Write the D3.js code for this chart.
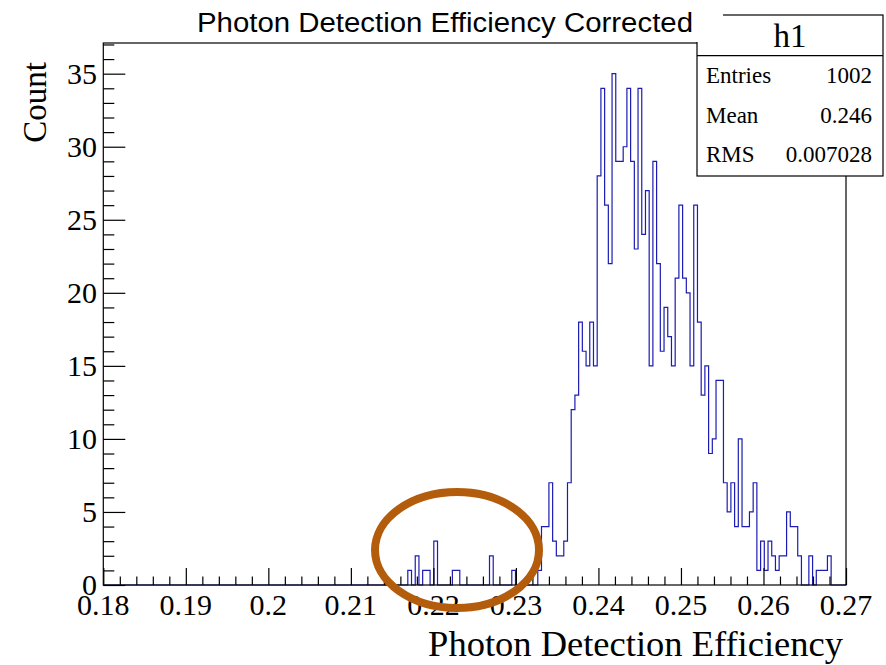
<!DOCTYPE html>
<html>
<head>
<meta charset="utf-8">
<script src="https://cdn.jsdelivr.net/npm/d3@7"></script>
<style>
  body { margin: 0; background: #fff; }
  text { fill: #000; }
</style>
</head>
<body>
<svg width="886" height="665"></svg>
<script>
// histogram h1 : 200 bins between 0.18 and 0.27
var xMin = 0.18, xMax = 0.27, nBins = 200;
var firstBin = 80;   // bins below this one are empty
// bin contents from bin 80 to bin 199
var counts = [
  0, 0, 1, 0, 2, 0, 1, 1, 0, 3,
  0, 0, 0, 0, 1, 1, 0, 0, 0, 0,
  0, 0, 0, 0, 2, 0, 0, 0, 0, 0,
  1, 0, 0, 0, 0, 0, 0, 1, 4, 4,
  7, 3, 2, 2, 3, 7, 12, 13, 18, 16,
  15, 18, 15, 28, 34, 26, 22, 35, 29, 29,
  30, 34, 29, 23, 34, 24, 27, 15, 29, 22,
  16, 19, 17, 15, 21, 26, 21, 20, 15, 26,
  18, 13, 15, 9, 10, 14, 14, 7, 5, 7,
  4, 10, 4, 4, 5, 7, 1, 3, 1, 3,
  2, 1, 2, 2, 5, 4, 4, 2, 0, 0,
  2, 0, 1, 1, 1, 2, 0, 0, 0, 0
];
var xTicks = [0.18, 0.19, 0.2, 0.21, 0.22, 0.23, 0.24, 0.25, 0.26, 0.27];
var yTicks = [0, 5, 10, 15, 20, 25, 30, 35];
var statNames = ["Entries", "Mean", "RMS"];
var statValues = ["1002", "0.246", "0.007028"];

var svg = d3.select("svg");
var frame = { left: 103.3, right: 846, top: 43, bottom: 585 };
var yTop = 37.1;

var x = d3.scaleLinear().domain([xMin, xMax]).range([frame.left, frame.right]);
var y = d3.scaleLinear().domain([0, yTop]).range([frame.bottom, frame.top]);
var binW = (xMax - xMin) / nBins;

// step outline like ROOT's HIST option
var pts = [[xMin, 0]];
for (var i = 0; i < nBins; i++) {
  var c = i < firstBin ? 0 : counts[i - firstBin];
  pts.push([xMin + i * binW, c]);
  pts.push([xMin + (i + 1) * binW, c]);
}
pts.push([xMax, 0]);

var line = d3.line()
    .x(function(d) { return x(d[0]); })
    .y(function(d) { return y(d[1]); });

svg.append("path")
    .attr("d", line(pts))
    .attr("fill", "none")
    .attr("stroke", "#1c1cb4")
    .attr("stroke-width", 1.2);

// frame box
svg.append("rect")
    .attr("x", frame.left).attr("y", frame.top)
    .attr("width", frame.right - frame.left)
    .attr("height", frame.bottom - frame.top)
    .attr("fill", "none").attr("stroke", "#000").attr("stroke-width", 1.2);

// x axis ticks, inside the frame
var xAxis = d3.axisTop(x)
    .tickValues(d3.range(0, 46).map(function(k) { return xMin + k * 0.002; }))
    .tickSize(0).tickFormat("");
var gx = svg.append("g").attr("transform", "translate(0," + frame.bottom + ")").call(xAxis);
gx.select(".domain").remove();
gx.selectAll(".tick line")
    .attr("stroke", "#000")
    .attr("stroke-width", 1.2)
    .attr("y2", function(d, k) { return k % 5 === 0 ? -17 : -8.5; });

svg.selectAll(".xlab")
    .data(xTicks)
  .enter().append("text")
    .attr("class", "xlab")
    .attr("x", function(d) { return x(d); })
    .attr("y", 615)
    .attr("text-anchor", "middle")
    .style("font-family", "'Liberation Serif', 'Times New Roman', serif")
    .style("font-size", "30px")
    .text(function(d) { return String(+d.toFixed(2)); });

// y axis ticks
var yAxis = d3.axisRight(y)
    .tickValues(d3.range(0, 38))
    .tickSize(0).tickFormat("");
var gy = svg.append("g").attr("transform", "translate(" + frame.left + ",0)").call(yAxis);
gy.select(".domain").remove();
gy.selectAll(".tick line")
    .attr("stroke", "#000")
    .attr("stroke-width", 1.2)
    .attr("x2", function(d) { return d % 5 === 0 ? 22 : 11; });

svg.selectAll(".ylab")
    .data(yTicks)
  .enter().append("text")
    .attr("class", "ylab")
    .attr("x", 97)
    .attr("y", function(d) { return y(d) + 10; })
    .attr("text-anchor", "end")
    .style("font-family", "'Liberation Serif', 'Times New Roman', serif")
    .style("font-size", "30px")
    .text(function(d) { return d; });

// axis titles
svg.append("text")
    .attr("x", 843).attr("y", 656)
    .attr("text-anchor", "end")
    .style("font-family", "'Liberation Serif', 'Times New Roman', serif")
    .style("font-size", "36.5px")
    .text("Photon Detection Efficiency");

svg.append("text")
    .attr("transform", "translate(46,62) rotate(-90)")
    .attr("text-anchor", "end")
    .style("font-family", "'Liberation Serif', 'Times New Roman', serif")
    .style("font-size", "33px")
    .text("Count");

// stats box
var stats = svg.append("g");
stats.append("rect")
    .attr("x", 697).attr("y", 15).attr("width", 186).attr("height", 161)
    .attr("fill", "#fff").attr("stroke", "#000").attr("stroke-width", 1.2);
stats.append("line")
    .attr("x1", 697).attr("x2", 883).attr("y1", 55.7).attr("y2", 55.7)
    .attr("stroke", "#000").attr("stroke-width", 1.2);
stats.append("text")
    .attr("x", 790).attr("y", 47)
    .attr("text-anchor", "middle")
    .style("font-family", "'Liberation Serif', 'Times New Roman', serif")
    .style("font-size", "33px")
    .text("h1");
statNames.forEach(function(n, k) {
  stats.append("text")
      .attr("x", 706).attr("y", 83 + k * 39.7)
      .style("font-family", "'Liberation Serif', 'Times New Roman', serif")
      .style("font-size", "23px")
      .text(n);
  stats.append("text")
      .attr("x", 872).attr("y", 83 + k * 39.7)
      .attr("text-anchor", "end")
      .style("font-family", "'Liberation Serif', 'Times New Roman', serif")
      .style("font-size", "23px")
      .text(statValues[k]);
});

// title pave (white, drawn over the stats corner)
svg.append("rect")
    .attr("x", 170).attr("y", 0).attr("width", 553).attr("height", 42)
    .attr("fill", "#fff");
svg.append("text")
    .attr("x", 445).attr("y", 32)
    .attr("text-anchor", "middle")
    .attr("textLength", 496).attr("lengthAdjust", "spacingAndGlyphs")
    .style("font-family", "'Liberation Sans', Arial, sans-serif")
    .style("font-size", "27px")
    .text("Photon Detection Efficiency Corrected");

// hand drawn highlight ring
svg.append("ellipse")
    .attr("cx", 457).attr("cy", 550).attr("rx", 82).attr("ry", 58)
    .attr("fill", "none")
    .attr("stroke", "#b35c0b")
    .attr("stroke-width", 8);
</script>
</body>
</html>
